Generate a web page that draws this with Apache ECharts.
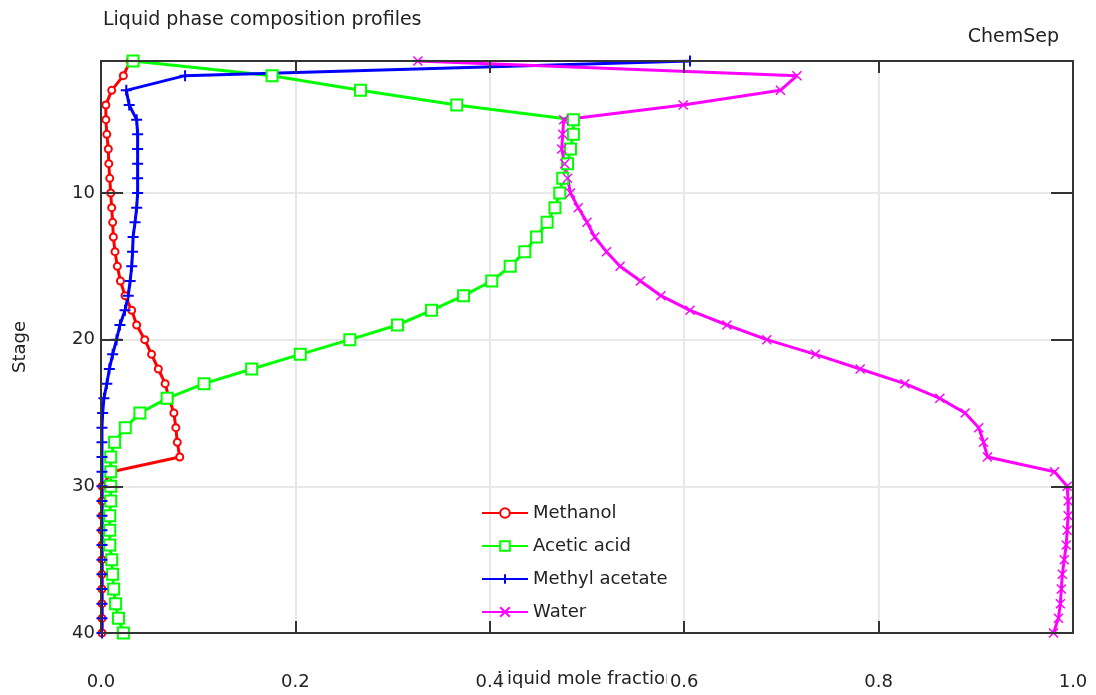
<!DOCTYPE html>
<html>
<head>
<meta charset="utf-8">
<title>Liquid phase composition profiles</title>
<script src="https://cdn.jsdelivr.net/npm/echarts@6/dist/echarts.min.js"></script>
<style>
  html, body { margin: 0; padding: 0; background: #ffffff; }
  #chart { width: 1096px; height: 695px; }
</style>
</head>
<body>
<div id="chart"></div>
<script>
// Column stages, top (1) to bottom (40)
const stages = [1, 2, 3, 4, 5, 6, 7, 8, 9, 10,
  11, 12, 13, 14, 15, 16, 17, 18, 19, 20,
  21, 22, 23, 24, 25, 26, 27, 28, 29, 30,
  31, 32, 33, 34, 35, 36, 37, 38, 39, 40];

// Liquid mole fractions per stage
const methanol = [0.030, 0.023, 0.011, 0.005, 0.005, 0.006, 0.0075, 0.008, 0.009, 0.010,
  0.011, 0.012, 0.0127, 0.0144, 0.0168, 0.020, 0.0247, 0.0316, 0.0367, 0.045,
  0.052, 0.059, 0.066, 0.070, 0.075, 0.077, 0.0785, 0.081, 0.011, 0.001,
  0.001, 0.001, 0.001, 0.001, 0.001, 0.001, 0.001, 0.001, 0.001, 0.001];

const aceticAcid = [0.033, 0.176, 0.267, 0.366, 0.486, 0.486, 0.483, 0.480, 0.475, 0.472,
  0.467, 0.459, 0.448, 0.436, 0.421, 0.402, 0.373, 0.340, 0.305, 0.256,
  0.205, 0.155, 0.106, 0.068, 0.040, 0.025, 0.014, 0.010, 0.010, 0.010,
  0.010, 0.009, 0.009, 0.009, 0.011, 0.012, 0.013, 0.015, 0.018, 0.023];

const methylAcetate = [0.606, 0.0865, 0.026, 0.029, 0.0367, 0.0377, 0.0377, 0.0377, 0.0377, 0.0377,
  0.0367, 0.035, 0.033, 0.0325, 0.0316, 0.030, 0.028, 0.0247, 0.0195, 0.016,
  0.012, 0.0086, 0.006, 0.003, 0.0017, 0.001, 0.001, 0.001, 0.001, 0.001,
  0.001, 0.001, 0.001, 0.001, 0.001, 0.001, 0.001, 0.001, 0.001, 0.001];

const water = [0.326, 0.716, 0.699, 0.599, 0.476, 0.475, 0.474, 0.477, 0.480, 0.483,
  0.491, 0.500, 0.508, 0.520, 0.534, 0.555, 0.576, 0.606, 0.644, 0.685,
  0.735, 0.781, 0.827, 0.863, 0.889, 0.903, 0.908, 0.912, 0.981, 0.994,
  0.995, 0.995, 0.994, 0.993, 0.991, 0.989, 0.988, 0.987, 0.985, 0.980];

const stageTicks = [10, 20, 30, 40];
const fractionTicks = [0.0, 0.2, 0.4, 0.6, 0.8, 1.0];

const FONT = '"DejaVu Sans", sans-serif';
const TEXT = '#222222';
const FRAME = '#333333';

const PLUS = 'path://M5,0L5,10M0,5L10,5';
const CROSS = 'path://M0,0L10,10M10,0L0,10';

function profile(name, values, color, symbol, size, border) {
  return {
    name: name,
    type: 'line',
    data: values.map((v, i) => [v, stages[i]]),
    color: color,
    symbol: symbol,
    symbolSize: size,
    showAllSymbol: true,
    lineStyle: { color: color, width: 3 },
    itemStyle: { color: color, borderColor: color, borderWidth: border },
    emphasis: { disabled: true },
    animation: false,
    z: 3
  };
}

const chart = echarts.init(document.getElementById('chart'), null, { renderer: 'canvas' });

// frame lines stay on their own side of the plot (no snapping to zero)
const axisFrame = { show: true, onZero: false, lineStyle: { color: FRAME, width: 2 } };
const gridLines = { show: true, lineStyle: { color: '#e8e8e8', width: 2 } };
const tickStyle = { color: FRAME, width: 2 };
const noLine = { show: false, onZero: false };

chart.setOption({
  animation: false,
  backgroundColor: '#ffffff',
  title: [
    {
      text: 'Liquid phase composition profiles',
      left: 98, top: 6,
      textStyle: { fontFamily: FONT, fontSize: 19, fontWeight: 'normal', color: TEXT }
    },
    {
      text: 'ChemSep',
      right: 32, top: 23,
      textStyle: { fontFamily: FONT, fontSize: 19, fontWeight: 'normal', color: TEXT }
    }
  ],
  graphic: [
    {
      type: 'text',
      z: 1,
      left: 497,
      top: 670,
      style: { text: 'Liquid mole fraction', font: '18px ' + FONT, fill: TEXT }
    }
  ],
  legend: {
    orient: 'vertical',
    left: 476,
    top: 499,
    itemWidth: 46,
    itemHeight: 12,
    itemGap: 15,
    textStyle: { fontFamily: FONT, fontSize: 18, color: TEXT },
    data: ['Methanol', 'Acetic acid', 'Methyl acetate', 'Water']
  },
  grid: { left: 101, right: 23, top: 61, bottom: 62, containLabel: false },
  xAxis: [
    {
      // bottom frame: ticks and labels drawn above the curves
      type: 'value', position: 'bottom', min: 0, max: 1, interval: 0.2,
      axisLine: axisFrame,
      axisTick: { show: true, inside: true, length: 12, lineStyle: tickStyle },
      splitLine: { show: false },
      axisLabel: {
        margin: 40, fontFamily: FONT, fontSize: 18, color: TEXT,
        backgroundColor: '#ffffff', padding: [0, 3],
        customValues: fractionTicks,
        formatter: v => v.toFixed(1)
      },
      z: 6
    },
    {
      // top frame
      type: 'value', position: 'top', min: 0, max: 1, interval: 0.2,
      axisLine: axisFrame,
      axisTick: { show: true, inside: true, length: 12, lineStyle: tickStyle },
      axisLabel: { show: false }, splitLine: { show: false },
      z: 6
    },
    {
      // vertical grid lines, behind the curves
      type: 'value', position: 'bottom', min: 0, max: 1, interval: 0.2,
      axisLine: noLine, axisTick: { show: false }, axisLabel: { show: false },
      splitLine: gridLines,
      z: 0
    }
  ],
  yAxis: [
    {
      type: 'value', position: 'left', inverse: true, min: 1, max: 40,
      name: 'Stage', nameLocation: 'middle', nameRotate: 90, nameGap: 72,
      nameTextStyle: { fontFamily: FONT, fontSize: 18, color: TEXT },
      axisLine: axisFrame,
      axisTick: { show: true, inside: true, length: 22, customValues: stageTicks, lineStyle: tickStyle },
      axisLabel: { customValues: stageTicks, margin: 6, fontFamily: FONT, fontSize: 18, color: TEXT },
      splitLine: { show: false },
      z: 6
    },
    {
      // right frame
      type: 'value', position: 'right', inverse: true, min: 1, max: 40,
      axisLine: axisFrame,
      axisTick: { show: true, inside: true, length: 22, customValues: stageTicks, lineStyle: tickStyle },
      axisLabel: { show: false, customValues: stageTicks },
      splitLine: { show: false },
      z: 6
    },
    {
      // horizontal grid lines, behind the curves
      type: 'value', position: 'left', inverse: true, min: 1, max: 40,
      axisLine: noLine,
      axisTick: { show: false, customValues: stageTicks },
      axisLabel: { show: false, customValues: stageTicks },
      splitLine: gridLines,
      z: 0
    }
  ],
  series: [
    profile('Methanol', methanol, '#ff0000', 'emptyCircle', 7, 1.5),
    profile('Acetic acid', aceticAcid, '#00ff00', 'emptyRect', 11, 1.5),
    profile('Methyl acetate', methylAcetate, '#0000ff', PLUS, 11, 2),
    profile('Water', water, '#ff00ff', CROSS, 9, 1.5)
  ]
});
</script>
</body>
</html>
